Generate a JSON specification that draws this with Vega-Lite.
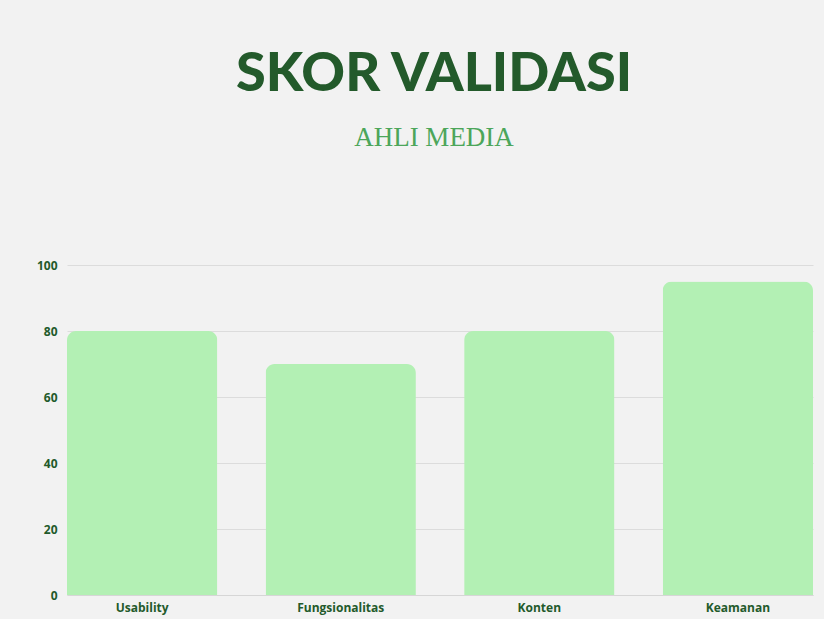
{
  "$schema": "https://vega.github.io/schema/vega-lite/v6.json",
  "width": 746,
  "height": 330,
  "autosize": {"type": "none"},
  "padding": {"left": 67, "top": 265, "right": 11, "bottom": 24},
  "background": "#f2f2f2",
  "title": {
    "text": "SKOR VALIDASI",
    "subtitle": "AHLI MEDIA",
    "anchor": "middle",
    "font": "Lato",
    "fontSize": 54,
    "fontWeight": 900,
    "color": "#235a2b",
    "subtitleFont": "Liberation Serif",
    "subtitleFontSize": 27,
    "subtitleFontWeight": "normal",
    "subtitleColor": "#4ca65a",
    "subtitlePadding": 23,
    "offset": 108,
    "dx": -6
  },
  "data": {
    "values": [
      {"aspek": "Usability", "skor": 80},
      {"aspek": "Fungsionalitas", "skor": 70},
      {"aspek": "Konten", "skor": 80},
      {"aspek": "Keamanan", "skor": 95}
    ]
  },
  "mark": {"type": "bar", "color": "#b3f0b4", "cornerRadiusTopLeft": 9, "cornerRadiusTopRight": 9},
  "encoding": {
    "x": {
      "field": "aspek",
      "type": "nominal",
      "sort": null,
      "scale": {"paddingInner": 0.243, "paddingOuter": 0},
      "axis": {
        "title": null,
        "labelAngle": 0,
        "labelFont": "Open Sans",
        "labelFontWeight": "bold",
        "labelFontSize": 12,
        "labelColor": "#235a2b",
        "ticks": false,
        "labelPadding": 7,
        "domainColor": "#d6d6d6",
        "grid": false
      }
    },
    "y": {
      "field": "skor",
      "type": "quantitative",
      "scale": {"domain": [0, 100]},
      "axis": {
        "title": null,
        "values": [0, 20, 40, 60, 80, 100],
        "labelFont": "Open Sans",
        "labelFontWeight": "bold",
        "labelFontSize": 12,
        "labelColor": "#235a2b",
        "ticks": false,
        "domain": false,
        "labelPadding": 10,
        "gridColor": "#dcdcdc"
      }
    }
  },
  "config": {"view": {"stroke": null}}
}
